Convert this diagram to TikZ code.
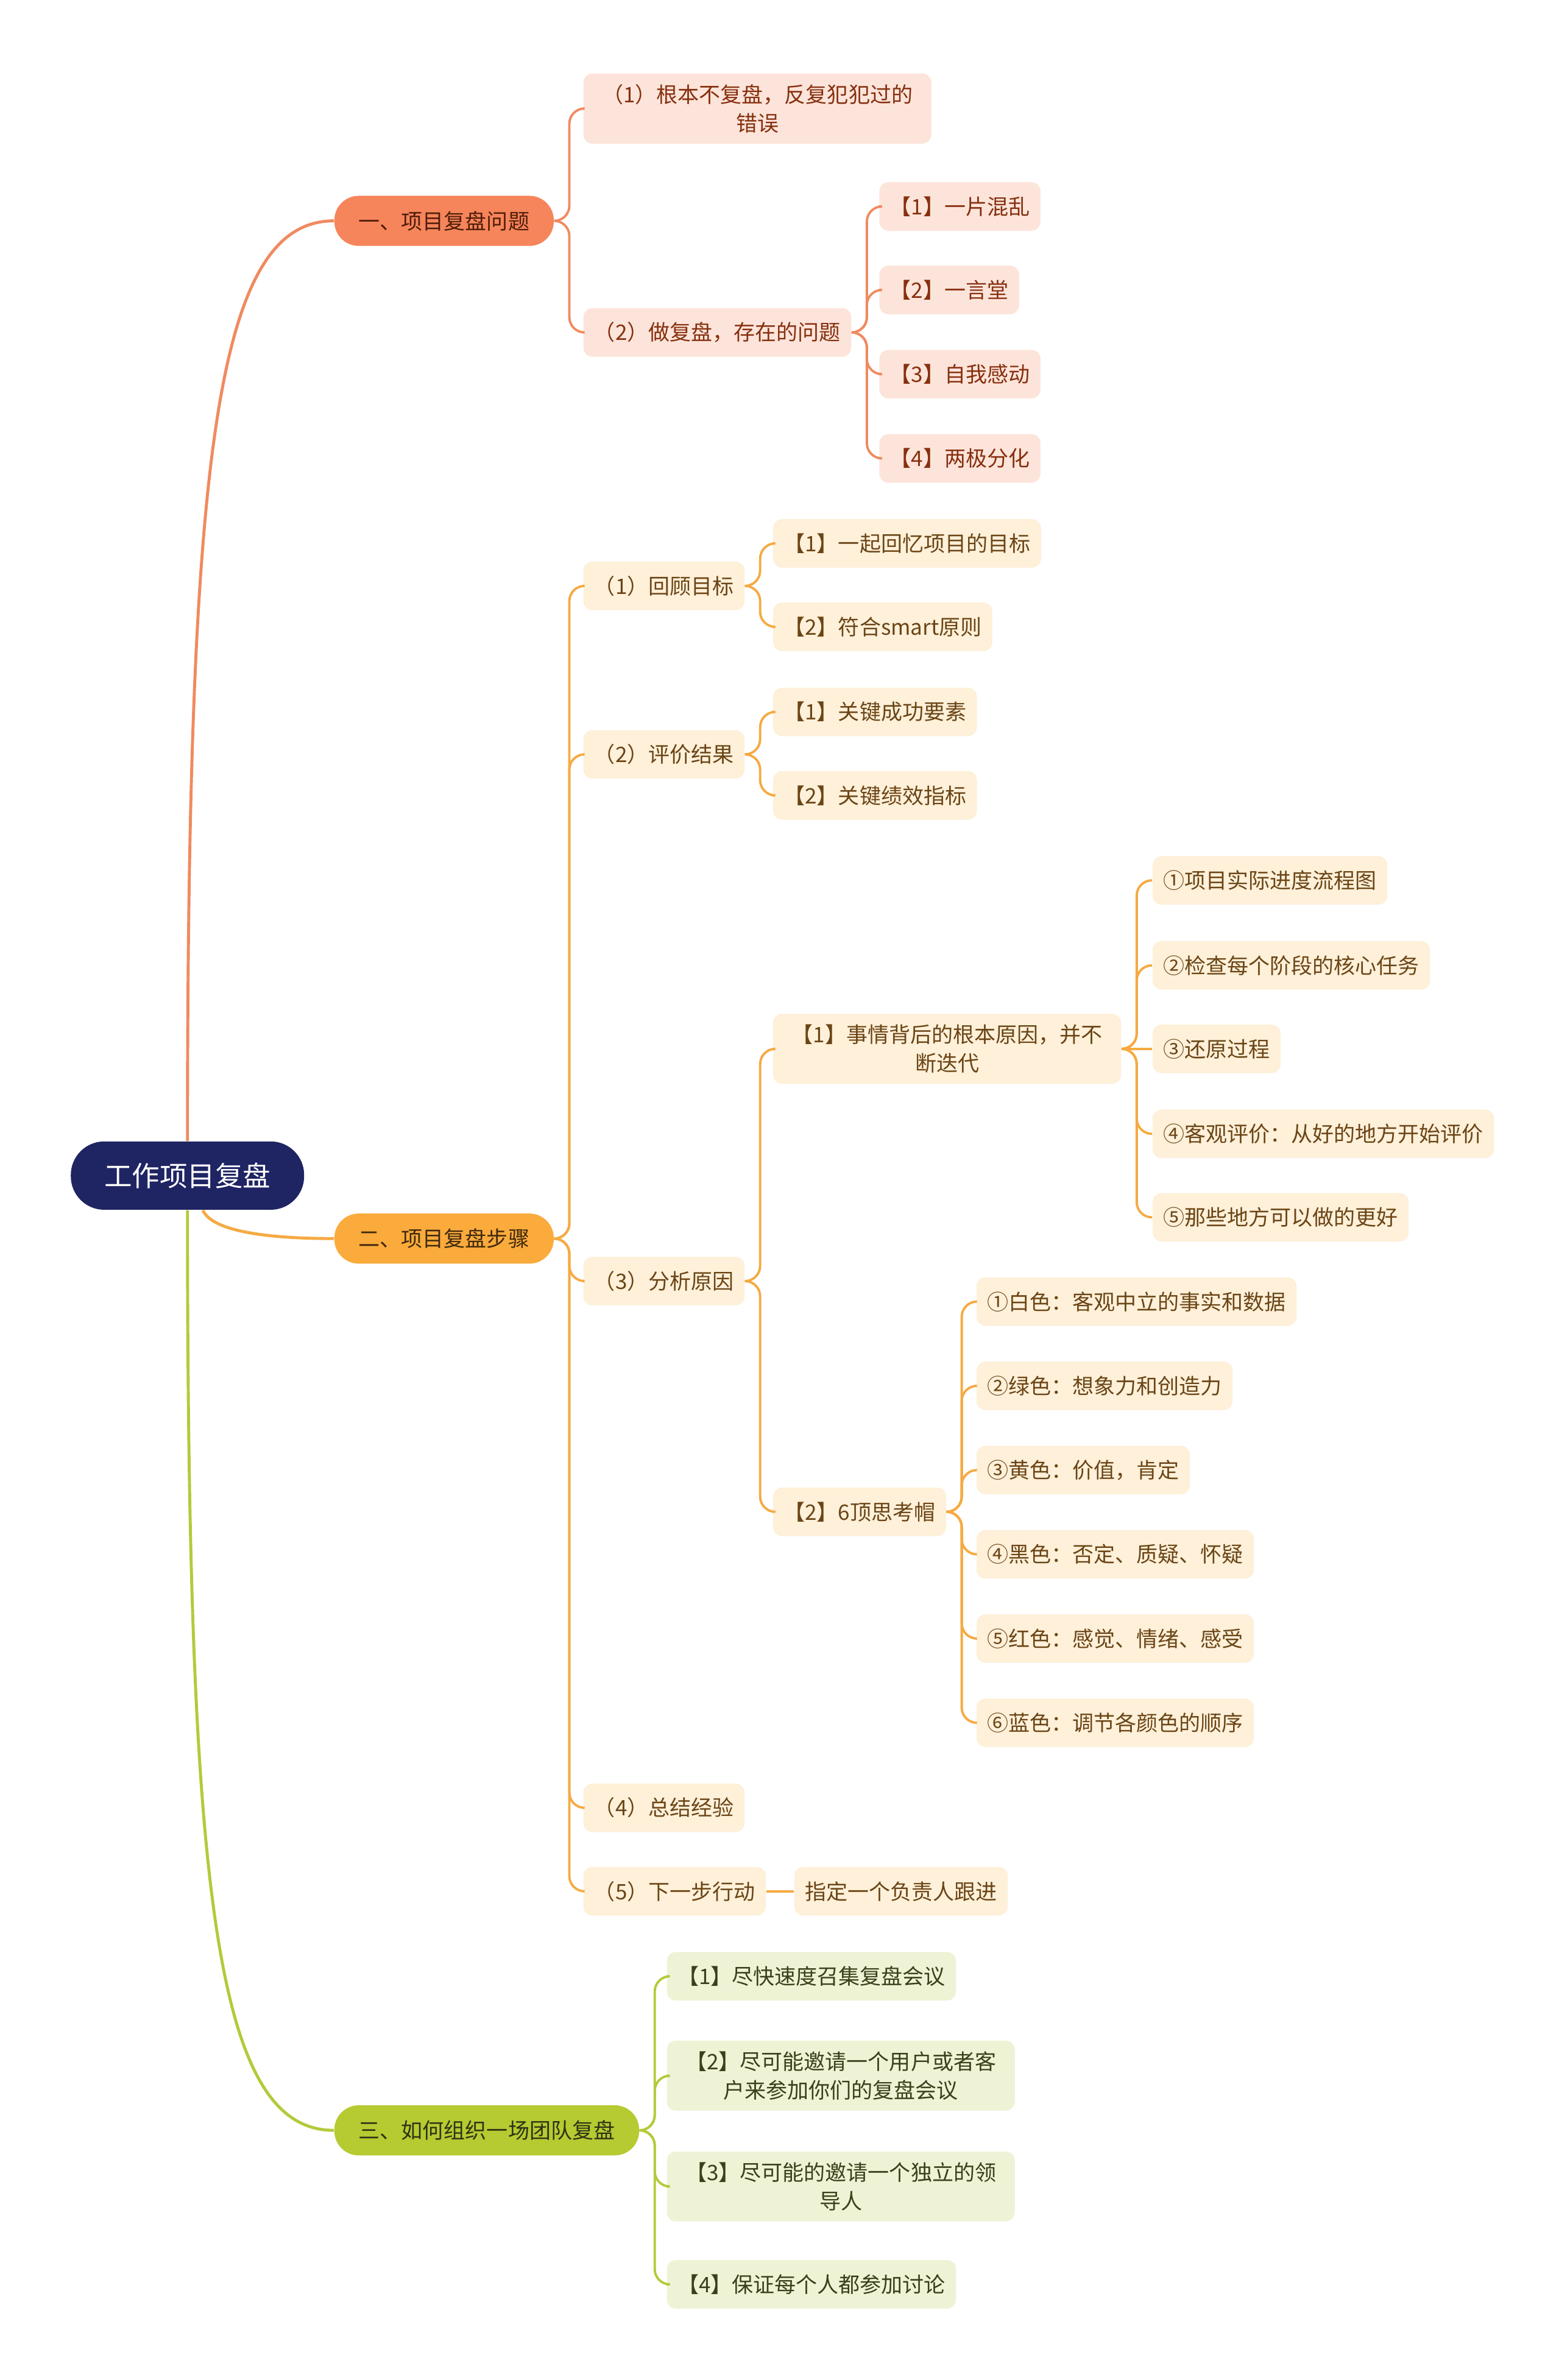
\documentclass[tikz,border=0pt]{standalone}
\usepackage{fontspec}
\setmainfont{Noto Sans CJK SC}
\usepackage{tikz}
\definecolor{zhulan}{HTML}{1F2463}
\definecolor{cheng}{HTML}{F6855B}
\definecolor{chengqian}{HTML}{FDE4DA}
\definecolor{chengzi}{HTML}{86300F}
\definecolor{chengxian}{HTML}{F08A5F}
\definecolor{huang}{HTML}{FAAB3C}
\definecolor{huangqian}{HTML}{FEF0D9}
\definecolor{huangzi}{HTML}{6B4516}
\definecolor{huangxian}{HTML}{F5AA42}
\definecolor{lv}{HTML}{B6CA31}
\definecolor{lvqian}{HTML}{EFF3D6}
\definecolor{lvzi}{HTML}{39401A}
\definecolor{lvxian}{HTML}{B5C93A}
\tikzset{
  zhuti/.style={fill=zhulan,text=white,rounded corners=0.55cm,minimum height=1.125cm,inner xsep=0.55cm,inner ysep=0pt,font=\fontsize{13}{16}\selectfont},
  fenzhi/.style={anchor=west,rounded corners=0.4cm,minimum height=0.825cm,inner xsep=0.4cm,inner ysep=0pt,font=\fontsize{10}{13.5}\selectfont},
  jie/.style={anchor=west,rounded corners=0.15cm,minimum height=0.8cm,inner xsep=0.175cm,inner ysep=5pt,align=center,font=\fontsize{10}{13.5}\selectfont},
  jieA/.style={jie,fill=chengqian,text=chengzi},
  jieB/.style={jie,fill=huangqian,text=huangzi},
  jieC/.style={jie,fill=lvqian,text=lvzi},
  liangxing/.style={minimum width=5.73cm},
  gan/.style={line width=1.4pt},
  zhi/.style={line width=1.1pt,rounded corners=0.25cm},
}

\begin{document}
\begin{tikzpicture}[x=0.025cm,y=-0.025cm]
\useasboundingbox (0,0) rectangle (1027,1568);
\node[zhuti] (fupan) at (123.5,774.5) {工作项目复盘};
\node[fenzhi,fill=cheng,text=chengzi!60!black] (wenti) at (220,145.5) {一、项目复盘问题};
\node[fenzhi,fill=huang,text=huangzi!60!black] (buzhou) at (220,816) {二、项目复盘步骤};
\node[fenzhi,fill=lv,text=lvzi!80!black] (zuzhi) at (220,1403.5) {三、如何组织一场团队复盘};
\node[jieA,liangxing] (wt1) at (384,71.5) {（1）根本不复盘，反复犯犯过的\\错误};
\node[jieA] (wt2) at (384,219) {（2）做复盘，存在的问题};
\node[jieA] (wt2a) at (579,136) {【1】一片混乱};
\node[jieA] (wt2b) at (579,191) {【2】一言堂};
\node[jieA] (wt2c) at (579,246.5) {【3】自我感动};
\node[jieA] (wt2d) at (579,302) {【4】两极分化};
\node[jieB] (bz1) at (384,386) {（1）回顾目标};
\node[jieB] (bz1a) at (509,358) {【1】一起回忆项目的目标};
\node[jieB] (bz1b) at (509,413) {【2】符合smart原则};
\node[jieB] (bz2) at (384,497) {（2）评价结果};
\node[jieB] (bz2a) at (509,469) {【1】关键成功要素};
\node[jieB] (bz2b) at (509,524) {【2】关键绩效指标};
\node[jieB] (bz3) at (384,844) {（3）分析原因};
\node[jieB,liangxing] (bz3a) at (509,691) {【1】事情背后的根本原因，并不\\断迭代};
\node[jieB] (bz3a1) at (759,580) {①项目实际进度流程图};
\node[jieB] (bz3a2) at (759,636) {②检查每个阶段的核心任务};
\node[jieB] (bz3a3) at (759,691) {③还原过程};
\node[jieB] (bz3a4) at (759,747) {④客观评价：从好的地方开始评价};
\node[jieB] (bz3a5) at (759,802) {⑤那些地方可以做的更好};
\node[jieB] (bz3b) at (509,996) {【2】6顶思考帽};
\node[jieB] (bz3b1) at (643,857.5) {①白色：客观中立的事实和数据};
\node[jieB] (bz3b2) at (643,913) {②绿色：想象力和创造力};
\node[jieB] (bz3b3) at (643,968.5) {③黄色：价值，肯定};
\node[jieB] (bz3b4) at (643,1024) {④黑色：否定、质疑、怀疑};
\node[jieB] (bz3b5) at (643,1079.5) {⑤红色：感觉、情绪、感受};
\node[jieB] (bz3b6) at (643,1135) {⑥蓝色：调节各颜色的顺序};
\node[jieB] (bz4) at (384,1191) {（4）总结经验};
\node[jieB] (bz5) at (384,1246) {（5）下一步行动};
\node[jieB] (bz5a) at (523,1246) {指定一个负责人跟进};
\node[jieC] (zz1) at (439,1302) {【1】尽快速度召集复盘会议};
\node[jieC,liangxing] (zz2) at (439,1367.5) {【2】尽可能邀请一个用户或者客\\户来参加你们的复盘会议};
\node[jieC,liangxing] (zz3) at (439,1440.5) {【3】尽可能的邀请一个独立的领\\导人};
\node[jieC] (zz4) at (439,1505) {【4】保证每个人都参加讨论};
\draw[gan,chengxian] (fupan.north) .. controls (123.5,300) and (142,145.5) .. (wenti.west);
\draw[gan,huangxian] (fupan.-66) .. controls (140,812) and (180,816) .. (buzhou.west);
\draw[gan,lvxian] (fupan.south) .. controls (123.5,1249) and (142,1403.5) .. (zuzhi.west);
\draw[zhi,chengxian] (wenti.east) -- ++(10,0) |- (wt1.west);
\draw[zhi,chengxian] (wenti.east) -- ++(10,0) |- (wt2.west);
\draw[zhi,chengxian] (wt2.east) -- ++(10,0) |- (wt2a.west);
\draw[zhi,chengxian] (wt2.east) -- ++(10,0) |- (wt2b.west);
\draw[zhi,chengxian] (wt2.east) -- ++(10,0) |- (wt2c.west);
\draw[zhi,chengxian] (wt2.east) -- ++(10,0) |- (wt2d.west);
\draw[zhi,huangxian] (buzhou.east) -- ++(10,0) |- (bz1.west);
\draw[zhi,huangxian] (buzhou.east) -- ++(10,0) |- (bz2.west);
\draw[zhi,huangxian] (buzhou.east) -- ++(10,0) |- (bz3.west);
\draw[zhi,huangxian] (buzhou.east) -- ++(10,0) |- (bz4.west);
\draw[zhi,huangxian] (buzhou.east) -- ++(10,0) |- (bz5.west);
\draw[zhi,huangxian] (bz1.east) -- ++(10,0) |- (bz1a.west);
\draw[zhi,huangxian] (bz1.east) -- ++(10,0) |- (bz1b.west);
\draw[zhi,huangxian] (bz2.east) -- ++(10,0) |- (bz2a.west);
\draw[zhi,huangxian] (bz2.east) -- ++(10,0) |- (bz2b.west);
\draw[zhi,huangxian] (bz3.east) -- ++(10,0) |- (bz3a.west);
\draw[zhi,huangxian] (bz3.east) -- ++(10,0) |- (bz3b.west);
\draw[zhi,huangxian] (bz3a.east) -- ++(10,0) |- (bz3a1.west);
\draw[zhi,huangxian] (bz3a.east) -- ++(10,0) |- (bz3a2.west);
\draw[zhi,huangxian] (bz3a.east) -- (bz3a3.west);
\draw[zhi,huangxian] (bz3a.east) -- ++(10,0) |- (bz3a4.west);
\draw[zhi,huangxian] (bz3a.east) -- ++(10,0) |- (bz3a5.west);
\draw[zhi,huangxian] (bz3b.east) -- ++(10,0) |- (bz3b1.west);
\draw[zhi,huangxian] (bz3b.east) -- ++(10,0) |- (bz3b2.west);
\draw[zhi,huangxian] (bz3b.east) -- ++(10,0) |- (bz3b3.west);
\draw[zhi,huangxian] (bz3b.east) -- ++(10,0) |- (bz3b4.west);
\draw[zhi,huangxian] (bz3b.east) -- ++(10,0) |- (bz3b5.west);
\draw[zhi,huangxian] (bz3b.east) -- ++(10,0) |- (bz3b6.west);
\draw[zhi,huangxian] (bz5.east) -- (bz5a.west);
\draw[zhi,lvxian] (zuzhi.east) -- ++(10,0) |- (zz1.west);
\draw[zhi,lvxian] (zuzhi.east) -- ++(10,0) |- (zz2.west);
\draw[zhi,lvxian] (zuzhi.east) -- ++(10,0) |- (zz3.west);
\draw[zhi,lvxian] (zuzhi.east) -- ++(10,0) |- (zz4.west);
\end{tikzpicture}
\end{document}
